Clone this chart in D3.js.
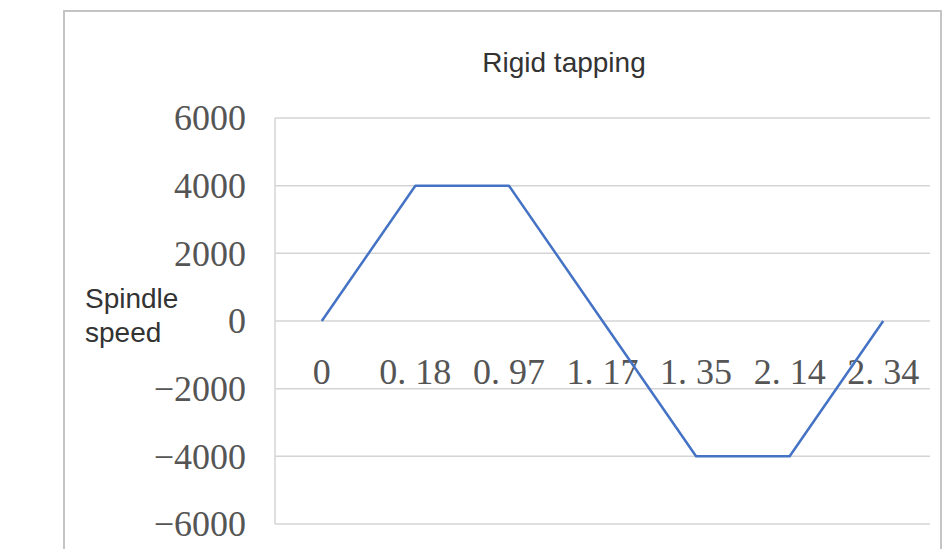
<!DOCTYPE html>
<html>
<head>
<meta charset="utf-8">
<script src="https://cdn.jsdelivr.net/npm/d3@7"></script>
<style>
  html, body { margin: 0; padding: 0; background: #fff; }
  svg { display: block; }
</style>
</head>
<body>
<svg id="chart" width="947" height="549"></svg>
<script>
// Time points (s) and spindle speed (rpm) for one rigid tapping cycle
const categories = ["0", "0.18", "0.97", "1.17", "1.35", "2.14", "2.34"];
const speeds = [0, 4000, 4000, 0, -4000, -4000, 0];
const yTicks = [-6000, -4000, -2000, 0, 2000, 4000, 6000];
const chartTitle = "Rigid tapping";
const axisTitle = ["Spindle", "speed"];

const svg = d3.select("#chart");

// chart frame
svg.append("rect")
  .attr("x", 64).attr("y", 11)
  .attr("width", 877).attr("height", 560)
  .attr("fill", "#fff")
  .attr("stroke", "#c4c4c4")
  .attr("stroke-width", 2);

const plot = { left: 275, right: 930, top: 118, bottom: 524 };

const x = d3.scaleBand()
  .domain(categories)
  .range([plot.left, plot.right])
  .padding(0);

const y = d3.scaleLinear()
  .domain([-6000, 6000])
  .range([plot.bottom, plot.top]);

// horizontal gridlines
svg.append("g")
  .selectAll("line")
  .data(yTicks)
  .join("line")
  .attr("x1", plot.left)
  .attr("x2", plot.right)
  .attr("y1", d => y(d))
  .attr("y2", d => y(d))
  .attr("stroke", "#d4d4d4")
  .attr("stroke-width", 1.5);

// vertical value axis line
svg.append("line")
  .attr("x1", plot.left).attr("x2", plot.left)
  .attr("y1", plot.top).attr("y2", plot.bottom)
  .attr("stroke", "#d4d4d4")
  .attr("stroke-width", 1.5);

// y tick labels
const fmtY = d => (d < 0 ? "\u2212" : "") + Math.abs(d);
svg.append("g")
  .selectAll("text")
  .data(yTicks)
  .join("text")
  .attr("x", 246)
  .attr("y", d => y(d))
  .attr("dy", "0.34em")
  .attr("text-anchor", "end")
  .attr("font-family", "'Liberation Serif', 'DejaVu Serif', serif")
  .attr("font-size", 36)
  .attr("fill", "#555")
  .text(fmtY);

// category labels, written with the wide spacing after the decimal point
const fmtX = s => s.replace(".", ". ");
svg.append("g")
  .selectAll("text")
  .data(categories)
  .join("text")
  .attr("x", d => x(d) + x.bandwidth() / 2)
  .attr("y", y(0) + 63)
  .attr("text-anchor", "middle")
  .attr("font-family", "'Liberation Serif', 'DejaVu Serif', serif")
  .attr("font-size", 36)
  .attr("fill", "#555")
  .text(fmtX);

// speed profile line
const line = d3.line()
  .x((d, i) => x(categories[i]) + x.bandwidth() / 2)
  .y(d => y(d));

svg.append("path")
  .datum(speeds)
  .attr("d", line)
  .attr("fill", "none")
  .attr("stroke", "#4472C4")
  .attr("stroke-width", 2.5)
  .attr("stroke-linejoin", "round");

// title
svg.append("text")
  .attr("x", 564)
  .attr("y", 72)
  .attr("text-anchor", "middle")
  .attr("font-family", "'Liberation Sans', Arial, sans-serif")
  .attr("font-size", 28)
  .attr("fill", "#333")
  .text(chartTitle);

// value axis title
svg.append("g")
  .selectAll("text")
  .data(axisTitle)
  .join("text")
  .attr("x", 85)
  .attr("y", (d, i) => 308 + i * 34)
  .attr("font-family", "'Liberation Sans', Arial, sans-serif")
  .attr("font-size", 28)
  .attr("fill", "#333")
  .text(d => d);
</script>
</body>
</html>
